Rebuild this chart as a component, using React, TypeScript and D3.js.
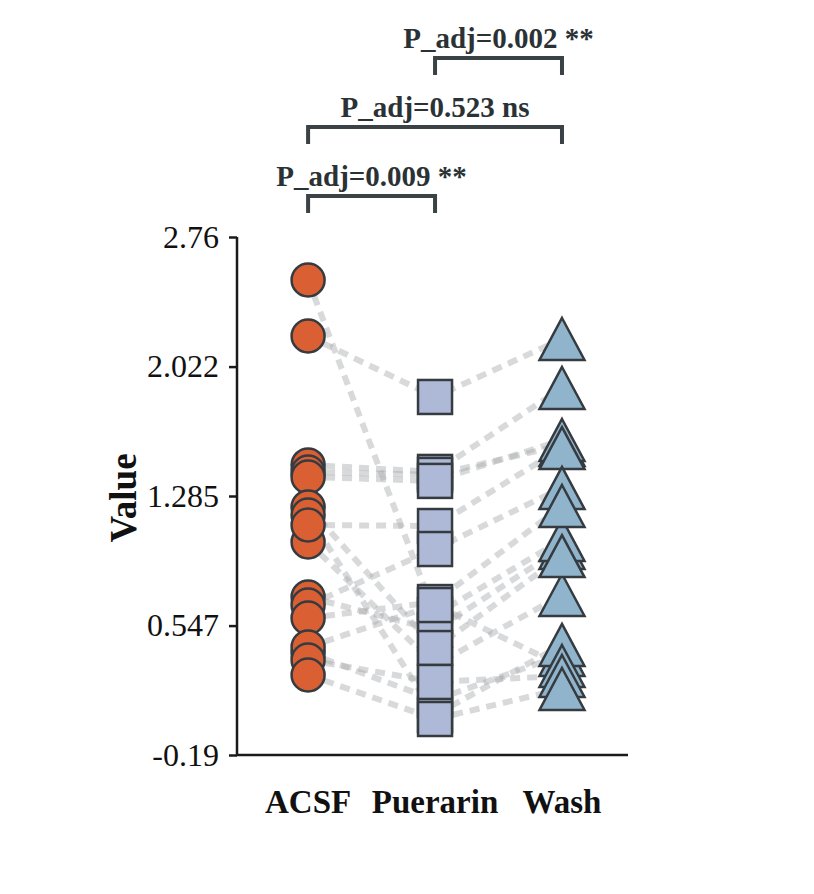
import React, { useEffect, useRef } from 'react';
import * as d3 from 'd3';

// groups on the x axis
const groups = ['ACSF', 'Puerarin', 'Wash'];

// paired values, one entry per subject (same index in each array)
const acsf = [0.71, 1.023, 0.391, 2.515, 2.196, 1.462, 1.422, 1.393, 1.222, 1.177, 1.12, 0.664, 0.59, 0.425, 0.351, 0.266];
const puerarin = [0.522, 0.323, 0.123, 0.607, 1.849, 1.422, 1.405, 1.371, 0.419, 0.038, 1.114, 0.983, 0.681, 0.664, 0.226, 0.015];
const wash = [0.989, 0.721, 0.38, 1.035, 2.179, 1.9, 1.575, 1.604, 0.943, 0.437, 1.558, 1.331, 1.228, 0.317, 0.26, 0.186];

const yTicks = [-0.19, 0.547, 1.285, 2.022, 2.76];
const yTickLabels = ['-0.19', '0.547', '1.285', '2.022', '2.76'];

// significance brackets
const brackets = [
  { from: 1, to: 2, label: 'P_adj=0.002 **' },
  { from: 0, to: 2, label: 'P_adj=0.523 ns' },
  { from: 0, to: 1, label: 'P_adj=0.009 **' },
];

const App = () => {
  const svgRef = useRef(null);

  useEffect(() => {
    const svg = d3.select(svgRef.current);
    svg.selectAll('*').remove();

    const serif = "'Liberation Serif', 'Times New Roman', serif";
    const edge = '#363b40';

    const x = d3.scaleLinear().domain([-0.56, 2.52]).range([237, 628]);
    const y = d3.scaleLinear().domain([-0.19, 2.76]).range([755, 237]);

    const series = [acsf, puerarin, wash];

    // paired dashed lines
    const line = d3
      .line()
      .x((d) => x(d[0]))
      .y((d) => y(d[1]));

    const pairs = acsf.map((_, i) => series.map((s, g) => [g, s[i]]));
    svg
      .append('g')
      .selectAll('path')
      .data(pairs)
      .enter()
      .append('path')
      .attr('d', line)
      .attr('fill', 'none')
      .attr('stroke', '#a9abae')
      .attr('stroke-opacity', 0.45)
      .attr('stroke-width', 6)
      .attr('stroke-dasharray', '10,7');

    // ACSF circles
    svg
      .append('g')
      .selectAll('circle')
      .data(acsf)
      .enter()
      .append('circle')
      .attr('cx', x(0))
      .attr('cy', (d) => y(d))
      .attr('r', 16.5)
      .attr('fill', '#da5f33')
      .attr('stroke', edge)
      .attr('stroke-width', 2.5);

    // Puerarin squares
    const side = 34;
    svg
      .append('g')
      .selectAll('rect')
      .data(puerarin)
      .enter()
      .append('rect')
      .attr('x', x(1) - side / 2)
      .attr('y', (d) => y(d) - side / 2)
      .attr('width', side)
      .attr('height', side)
      .attr('fill', '#adb9d6')
      .attr('stroke', edge)
      .attr('stroke-width', 2.5);

    // Wash triangles
    const tw = 45;
    const th = 42;
    svg
      .append('g')
      .selectAll('path')
      .data(wash)
      .enter()
      .append('path')
      .attr('d', (d) => {
        const cx = x(2);
        const cy = y(d);
        return `M${cx},${cy - th / 2}L${cx + tw / 2},${cy + th / 2}L${cx - tw / 2},${cy + th / 2}Z`;
      })
      .attr('fill', '#8fb4cc')
      .attr('stroke', edge)
      .attr('stroke-width', 2.5)
      .attr('stroke-linejoin', 'miter');

    // axes
    const yAxis = d3
      .axisLeft(y)
      .tickValues(yTicks)
      .tickFormat((_, i) => yTickLabels[i])
      .tickSize(8)
      .tickPadding(10);
    const gy = svg.append('g').attr('transform', `translate(${x(-0.56)},0)`).call(yAxis);
    gy.select('.domain').attr('stroke', '#1a1a1a').attr('stroke-width', 2.5).attr('d', `M0,${y(2.76)}V${y(-0.19)}`);
    gy.selectAll('.tick line').attr('stroke', '#1a1a1a').attr('stroke-width', 2.5);
    gy.selectAll('.tick text')
      .attr('font-family', serif)
      .attr('font-size', 32)
      .attr('fill', '#111');

    svg
      .append('line')
      .attr('x1', x(-0.56))
      .attr('x2', x(2.52))
      .attr('y1', y(-0.19))
      .attr('y2', y(-0.19))
      .attr('stroke', '#1a1a1a')
      .attr('stroke-width', 2.5);

    // category labels
    svg
      .append('g')
      .selectAll('text')
      .data(groups)
      .enter()
      .append('text')
      .attr('x', (_, i) => x(i))
      .attr('y', 813)
      .attr('text-anchor', 'middle')
      .attr('font-family', serif)
      .attr('font-weight', 'bold')
      .attr('font-size', 33)
      .attr('fill', '#111')
      .text((d) => d);

    // y label
    svg
      .append('text')
      .attr('transform', 'translate(136,498) rotate(-90)')
      .attr('text-anchor', 'middle')
      .attr('font-family', serif)
      .attr('font-weight', 'bold')
      .attr('font-size', 37)
      .attr('fill', '#111')
      .text('Value');

    // brackets
    const bracketY = [58, 127, 196];
    const bk = svg.append('g');
    brackets.forEach((b, i) => {
      const by = bracketY[i];
      bk.append('path')
        .attr('d', `M${x(b.from)},${by + 17}V${by}H${x(b.to)}V${by + 17}`)
        .attr('fill', 'none')
        .attr('stroke', '#3b4245')
        .attr('stroke-width', 4);
      bk.append('text')
        .attr('x', (x(b.from) + x(b.to)) / 2)
        .attr('y', by - 10)
        .attr('text-anchor', 'middle')
        .attr('font-family', serif)
        .attr('font-weight', 'bold')
        .attr('font-size', 29)
        .attr('fill', '#2b3236')
        .text(b.label);
    });
  }, []);

  return (
    <div style={{ position: 'absolute', left: 0, top: 0 }}>
      <svg ref={svgRef} width={814} height={894} style={{ display: 'block' }}></svg>
    </div>
  );
};

export default App;
